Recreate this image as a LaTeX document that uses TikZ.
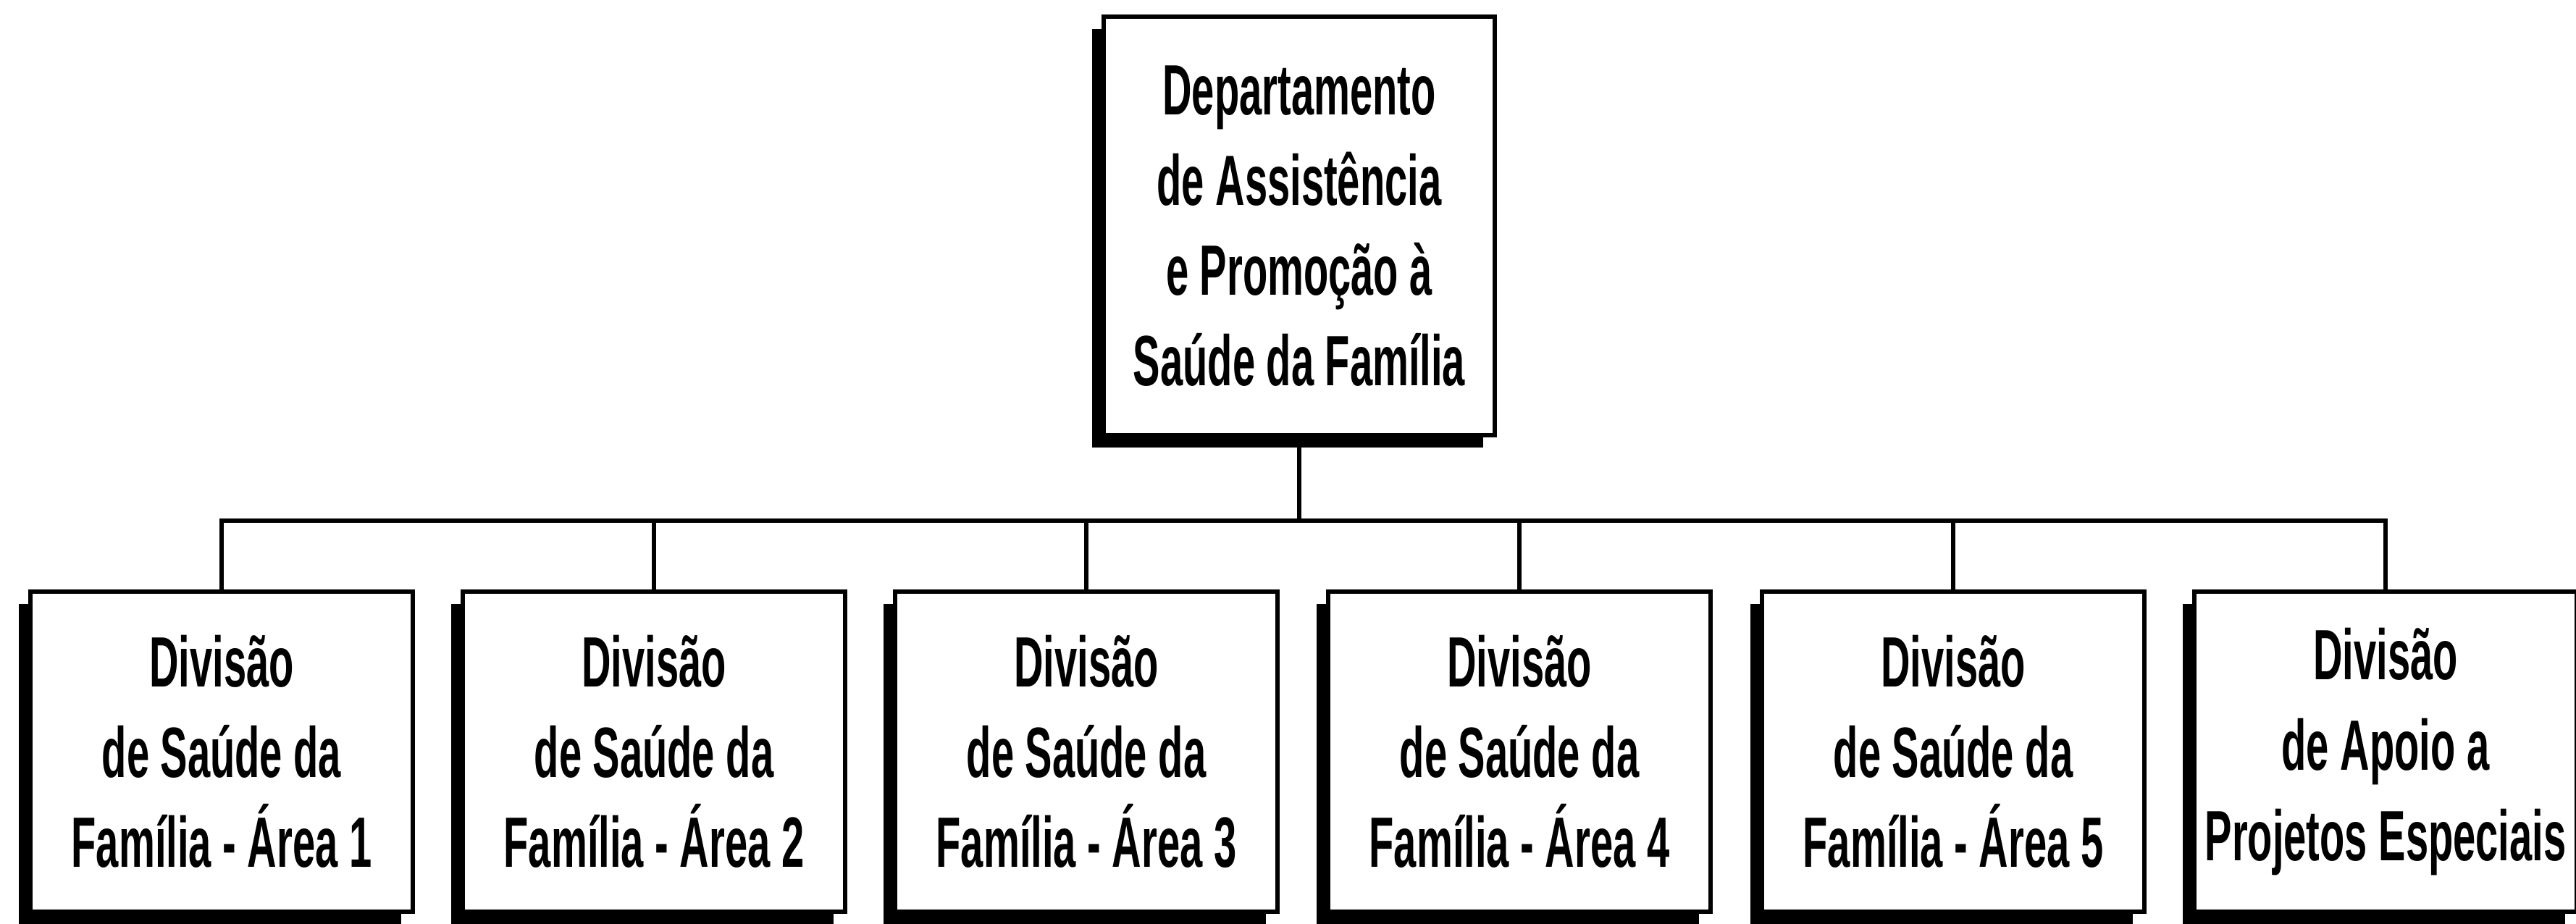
\documentclass[tikz,border=0pt]{standalone}
\usepackage{fontspec}
\setmainfont{Liberation Sans}[FakeStretch=0.57,UprightFont=* Bold]
\usetikzlibrary{shadows}
\tikzset{orgbox/.style={draw,line width=1.8pt,fill=white,align=center,inner sep=0pt,
           font=\fontsize{28}{35.5}\selectfont,
           drop shadow={shadow xshift=-0.16cm,shadow yshift=-0.17cm,fill=black,opacity=1}},
         dept/.style={orgbox,minimum width=5.4cm,minimum height=5.78cm},
         div/.style={orgbox,minimum width=5.28cm,minimum height=4.42cm},
         link/.style={draw,line width=1.8pt}}

\begin{document}
\begin{tikzpicture}
\useasboundingbox (0,0) rectangle (35.57,-12.75);
\node[dept] (dept) at (17.94,-3.12)
  {Departamento\\de Assistência\\e Promoção à\\Saúde da Família};
\foreach \x/\name/\txt in {
    3.06/area1/{Divisão\\de Saúde da\\Família - Área 1},
    9.03/area2/{Divisão\\de Saúde da\\Família - Área 2},
    15.00/area3/{Divisão\\de Saúde da\\Família - Área 3},
    20.98/area4/{Divisão\\de Saúde da\\Família - Área 4},
    26.97/area5/{Divisão\\de Saúde da\\Família - Área 5},
    32.94/apoio/{Divisão\\de Apoio a\\Projetos Especiais}}
  \node[div] (\name) at (\x,-10.38) {\txt};
\coordinate (bus) at (17.94,-7.19);
\draw[link] (dept) -- (bus);
\foreach \name in {area1,area2,area3,area4,area5,apoio}
  \draw[link] (bus) -| (\name);
\end{tikzpicture}
\end{document}
